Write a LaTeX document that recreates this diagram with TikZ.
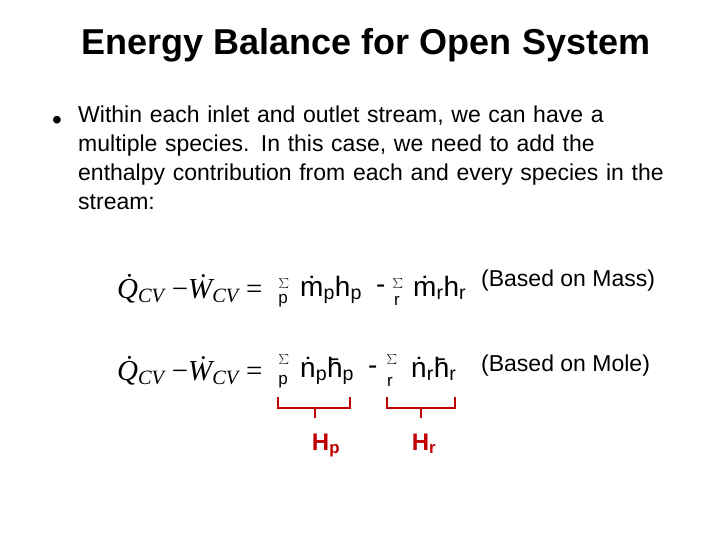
\documentclass[tikz,border=0pt]{standalone}
\usepackage{fontspec}
\setmainfont{Liberation Sans}
\newfontfamily\tms{Liberation Serif}
\definecolor{bred}{RGB}{192,0,0}
\begin{document}
\begin{tikzpicture}[x=1pt,y=-1pt,
  txt/.style={inner sep=0pt,anchor=base west,font=\fontsize{23}{29}\selectfont},
  eq/.style={inner sep=0pt,anchor=base west,font=\fontsize{28}{30}\selectfont},
  lhs/.style={inner sep=0pt,anchor=base west,font=\tms\itshape\fontsize{29}{30}\selectfont},
  sig/.style={inner sep=0pt,font=\fontsize{17}{18}\selectfont},
  sg/.style={inner sep=0pt,font=\fontsize{24}{24}\selectfont},
  brace/.style={draw=bred,line width=2.5pt},
  hl/.style={inner sep=0pt,anchor=base,text=bred,font=\bfseries\fontsize{24}{26}\selectfont}]
\useasboundingbox (0,0) rectangle (720,540);
\node[inner sep=0pt,font=\bfseries\fontsize{36}{40}\selectfont] (title) at (366,45) {Energy Balance for Open System};
\node[txt,font=\fontsize{28}{29}\selectfont] (bul) at (52,130) {•};
\node[txt,align=left,anchor=north west,text width=640pt] (body) at (78,106) {Within each inlet and outlet stream, we can have a\\multiple species. In this case, we need to add the\\enthalpy contribution from each and every species in the\\stream:};
% row 1
\node[lhs] (l1) at (117,298) {\.{Q}\textsubscript{CV} {\upshape−}\.{W}\textsubscript{CV} {\upshape=}};
\node[sg] (s1) at (284,284) {$\sum$};
\node[sig] (p1) at (283,301) {p};
\node[eq] (m1) at (300,296) {\.{m}\textsubscript{p}h\textsubscript{p}};
\node[eq] (d1) at (376,293) {-};
\node[sg] (s2) at (398,284) {$\sum$};
\node[sig] (r1) at (397,301) {r};
\node[eq] (m2) at (413,296) {\.{m}\textsubscript{r}h\textsubscript{r}};
\node[eq,font=\fontsize{23}{24}\selectfont] (b1) at (481,286) {(Based on Mass)};
% row 2
\node[lhs] (l2) at (117,380) {\.{Q}\textsubscript{CV} {\upshape−}\.{W}\textsubscript{CV} {\upshape=}};
\node[sg] (s3) at (284,360) {$\sum$};
\node[sig] (p2) at (283,382) {p};
\node[eq] (n1) at (300,377) {\.{n}\textsubscript{p}\={h}\textsubscript{p}};
\node[eq] (d2) at (368,374) {-};
\node[sg] (s4) at (392,360) {$\sum$};
\node[sig] (r2) at (390,382) {r};
\node[eq] (n2) at (411,377) {\.{n}\textsubscript{r}\={h}\textsubscript{r}};
\node[eq,font=\fontsize{23}{24}\selectfont] (b2) at (481,371) {(Based on Mole)};
% braces
\draw[brace] (278,397) |- (350,408) -- (350,397);
\draw[brace] (315,408) -- (315,418);
\draw[brace] (387,397) |- (455,408) -- (455,397);
\draw[brace] (421,408) -- (421,418);
\node[hl] (hp) at (326,450) {H\textsubscript{p}};
\node[hl] (hr) at (424,450) {H\textsubscript{r}};
\end{tikzpicture}
\end{document}
